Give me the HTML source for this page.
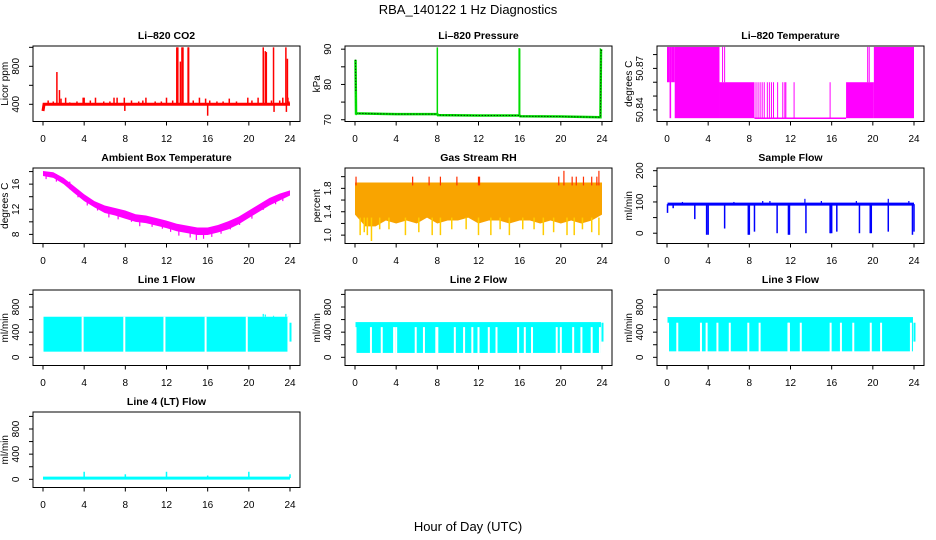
<!DOCTYPE html>
<html><head><meta charset="utf-8">
<style>
html,body{margin:0;padding:0;background:#fff;}
svg{display:block;font-family:"Liberation Sans",Arial,sans-serif;}
</style></head>
<body>
<svg id="chart" width="936" height="540" viewBox="0 0 936 540" xmlns="http://www.w3.org/2000/svg">
<text x="468" y="14" font-size="13" text-anchor="middle">RBA_140122  1 Hz Diagnostics</text>
<text x="468" y="531" font-size="13" text-anchor="middle">Hour of Day (UTC)</text>
</svg>
<script>
// ---- data ----
const xTicks = [0,4,8,12,16,20,24];
// CO2
const co2BaseHours = [0,0.1,24];
const co2BaseVals = [330,400,400];
const co2SpikeHours = [0.05,0.5,1.0,1.35,1.6,1.75,2.2,2.6,3.3,3.9,4.0,4.6,5.1,5.9,6.5,6.9,7.2,7.9,7.95,8.6,9.3,9.7,10.0,10.9,11.5,12.0,12.6,13.0,13.1,13.35,13.5,13.6,14.1,14.15,14.6,15.2,15.8,16.0,16.2,16.9,17.5,18.1,18.8,19.9,20.3,20.9,21.4,21.6,21.7,22.2,22.4,22.45,23.0,23.3,23.6,23.65,23.75,23.8,23.9];
const co2SpikeVals = [350,440,430,740,550,460,470,420,430,470,470,440,470,430,430,470,470,470,330,440,430,440,470,430,430,470,440,1000,1000,850,1000,1000,1000,1000,440,470,460,280,440,430,430,460,430,470,440,470,1000,960,950,440,1000,320,440,470,1000,320,880,470,430];
// Pressure
const presHours = [0.05,0.1,4,8,8.05,12,16,16.05,20,23.85,23.9,24];
const presVals = [87,71.8,71.6,71.6,71.3,71.2,71.2,71.0,70.9,70.7,89.7,89.5];
const presSpikeHours = [0.12,8.0,15.95,16.0];
const presSpikeVals = [78,90.5,90.3,90.2];
// Li-820 temperature bands
const tStart = [0,0.25,0.4,0.75,5.1,5.35,5.55,8.5,8.6,8.8,9.0,9.2,9.4,9.7,9.9,10.1,10.3,10.7,11.2,11.4,11.5,12.3,15.8,17.4,19.45,19.6,20.1];
const tEnd   = [0.25,0.4,0.75,5.1,8.5,5.42,5.62,17.4,8.67,8.87,9.07,9.27,9.47,9.77,9.97,10.17,10.37,10.77,11.27,11.47,11.57,12.37,15.87,20.1,19.52,19.67,24];
const tLo    = [50.86,50.834,50.86,50.834,50.834,50.86,50.86,50.834,50.834,50.834,50.834,50.834,50.834,50.834,50.834,50.834,50.834,50.834,50.834,50.834,50.834,50.834,50.834,50.834,50.86,50.86,50.834];
const tHi    = [50.8855,50.8855,50.8855,50.8855,50.86,50.8855,50.8855,50.8345,50.86,50.86,50.86,50.86,50.86,50.86,50.86,50.86,50.86,50.86,50.86,50.86,50.86,50.86,50.86,50.86,50.8855,50.8855,50.8855];
// Ambient box temperature (hourly envelopes)
const ambHours = [0,1,2,3,4,5,6,7,8,9,10,11,12,13,14,15,16,17,18,19,20,21,22,23,24];
const ambHigh = [18.1,17.9,17.0,15.7,14.4,13.3,12.6,12.2,11.8,11.2,11.0,10.6,10.2,9.7,9.4,9.1,9.1,9.5,10.1,10.8,11.8,12.8,13.8,14.5,15.0];
const ambLow  = [17.3,17.0,16.0,14.6,13.3,12.3,11.4,11.0,10.5,10.0,9.8,9.4,9.0,8.5,8.2,7.9,7.9,8.3,8.8,9.6,10.6,11.6,12.6,13.4,14.2];
const ambDipHours = [0.3,1.3,2.6,3.4,4.3,5.3,6.4,7.3,8.6,9.4,10.6,11.6,12.4,13.2,14.3,14.9,15.6,16.4,17.3,18.2,19.1,20.3,21.4,22.6,23.3];
const ambDipVals  = [16.8,16.4,15.2,13.9,12.6,11.8,10.7,10.4,10.0,9.3,9.2,8.9,8.4,7.8,7.5,7.1,7.3,7.6,8.1,8.8,9.5,10.5,11.9,12.8,13.3];
// Gas stream RH
const rhHours = [0,1,2,3,4,5,6,7,8,9,10,11,12,13,14,15,16,17,18,19,20,21,22,23,24];
const rhHigh = [1.9,1.9,1.9,1.9,1.9,1.9,1.9,1.9,1.9,1.9,1.9,1.9,1.9,1.9,1.9,1.9,1.9,1.9,1.9,1.9,1.9,1.9,1.9,1.9,1.9];
const rhLow  = [1.35,1.15,1.15,1.25,1.2,1.25,1.2,1.3,1.2,1.25,1.25,1.3,1.2,1.25,1.25,1.2,1.25,1.25,1.2,1.25,1.2,1.25,1.2,1.25,1.35];
const rhDipHours = [0.5,0.9,1.2,1.6,2.4,3.3,4.9,6.2,7.5,8.3,9.4,10.8,12.0,13.2,14.1,15.0,16.3,17.4,18.3,19.3,20.6,21.3,22.1,23.0,23.7];
const rhDipVals  = [1.0,1.05,1.0,0.9,1.1,1.1,1.0,1.05,1.0,1.0,1.1,1.1,1.0,1.0,1.1,1.0,1.1,1.1,1.0,1.05,1.0,1.0,1.1,1.05,1.0];
const rhPeakHours = [0.1,5.6,7.2,8.3,9.9,12.0,12.1,19.8,20.3,21.1,21.5,22.2,23.0,23.5,23.7];
const rhPeakVals  = [2.0,2.0,2.0,2.0,2.0,2.0,2.0,2.0,2.1,2.0,2.0,2.0,2.0,2.0,2.1];
// Sample flow
const sfBase = 93;
const sfDipHours = [0.05,0.6,2.7,3.85,4.0,5.6,7.9,8.0,8.5,10.7,11.8,11.9,13.5,15.85,15.9,16.0,16.5,18.7,19.75,19.85,21.5,23.85,24.0];
const sfDipVals  = [65,80,45,-5,-5,15,-5,-5,5,0,-5,-5,0,0,0,0,5,0,0,0,5,-5,5];
const sfPeakHours = [1.5,6.5,9.3,10.0,13.4,15.0,18.4,21.5,23.5];
const sfPeakVals  = [100,100,103,103,110,103,103,110,103];
// Line flows
const l1Top = 645, l1Bottom = 90, l1GapTop = 660;
const l1GapHours = [3.85,7.9,11.8,15.8,19.8,23.85];
const l1PeakHours = [21.4,21.6,22.4,23.6];
const l1PeakVals = [690,680,660,690];
const l2Top = 560, l2Bottom = 70, l2GapTop = 480;
const l2GapHours = [0.05,1.55,2.6,3.8,4.0,5.9,6.7,7.9,8.0,9.7,10.6,11.4,12.0,13.0,13.75,15.85,16.5,17.2,19.6,20.0,21.2,22.0,23.0,23.8];
const l3Top = 640, l3Bottom = 95, l3GapTop = 550;
const l3GapHours = [0.1,1.0,3.3,3.85,4.9,6.1,7.9,9.0,11.8,11.85,13.0,15.9,16.9,18.1,19.8,20.8,23.7];
const l4Base = 20;
const l4SpikeHours = [4.0,8.0,12.0,16.0,20.0,24.0];
const l4SpikeVals = [120,80,120,60,120,80];

// ---- layout ----
const svg = document.getElementById('chart');
const NS = 'http://www.w3.org/2000/svg';
const PXH = 247/24;
function mk(tag, attrs, parent){
  const e = document.createElementNS(NS, tag);
  for (const k in attrs) e.setAttribute(k, attrs[k]);
  (parent||svg).appendChild(e);
  return e;
}
let clipId = 0;
function panel(name, col, row, ylo, yhi, yTicks, yLabels, title, ylab){
  const g = mk('g', {});
  
  
  const x0 = 43 + col*312;
  const left = x0 - 10, right = x0 + 257;
  const top = 46 + row*122, bottom = top + 75.5;
  const X = h => x0 + h*PXH;
  const Y = v => bottom - (v - ylo)/(yhi - ylo)*(bottom - top);
  const id = 'clip' + (clipId++);
  const cp = mk('clipPath', {id: id}, g);
  mk('rect', {x:left, y:top, width:right-left, height:bottom-top}, cp);
  const plot = mk('g', {'clip-path':'url(#'+id+')'}, g);
  
  
  const box = mk('rect', {x:left, y:top, width:right-left, height:bottom-top, fill:'none', stroke:'#000', 'stroke-width':1}, g);
  
  
  const t = mk('text', {x:(left+right)/2, y:top-7, 'font-size':10.5, 'font-weight':'bold', 'text-anchor':'middle'}, g);
  t.textContent = title;
  
  
  const xa = mk('g', {}, g);
  
  
  xTicks.forEach(h => {
    mk('line', {x1:X(h), x2:X(h), y1:bottom, y2:bottom+4, stroke:'#000'}, xa);
    const l = mk('text', {x:X(h), y:bottom+20.5, 'font-size':10, 'text-anchor':'middle'}, xa);
    l.textContent = h;
  });
  const ya = mk('g', {}, g);
  
  
  yTicks.forEach((v,i) => {
    mk('line', {x1:left-4, x2:left, y1:Y(v), y2:Y(v), stroke:'#000'}, ya);
    if (yLabels[i] !== '') {
      const l = mk('text', {x:0, y:0, 'font-size':10, 'text-anchor':'middle', transform:'translate('+(left-14)+','+Y(v)+') rotate(-90)'}, ya);
      l.textContent = yLabels[i];
    }
  });
  const yt = mk('text', {x:0, y:0, 'font-size':10, 'text-anchor':'middle', transform:'translate('+(left-25)+','+((top+bottom)/2)+') rotate(-90)'}, g);
  yt.textContent = ylab;
  
  
  return {plot, X, Y};
}
function vline(p, h, v1, v2, color, w){
  return mk('line', {x1:p.X(h), x2:p.X(h), y1:p.Y(v1), y2:p.Y(v2), stroke:color, 'stroke-width':w||1.2}, p.plot);
}
function polyline(p, hs, vs, color, w, dash){
  const pts = hs.map((h,i)=>p.X(h)+','+p.Y(vs[i])).join(' ');
  const a = {points:pts, fill:'none', stroke:color, 'stroke-width':w};
  if (dash) a['stroke-dasharray'] = dash;
  return mk('polyline', a, p.plot);
}
function band(p, hs, hi, lo, fill){
  const pts = hs.map((h,i)=>p.X(h)+','+p.Y(hi[i])).concat(hs.slice().reverse().map((h,i)=>p.X(h)+','+p.Y(lo[hs.length-1-i]))).join(' ');
  return mk('polygon', {points:pts, fill:fill, stroke:'none'}, p.plot);
}

// CO2
{
  const p = panel('co2', 0, 0, 219, 1014, [400,600,800,1000], ['400','','800',''], 'Li\u2013820 CO2', 'Licor ppm');
  co2SpikeHours.forEach((h,i)=>{
    const s = vline(p, h, 400, co2SpikeVals[i], '#ff0000', 1.5);
    
    
  });
  const l = polyline(p, co2BaseHours, co2BaseVals, '#ff0000', 3);
  
  
}
// Pressure
{
  const p = panel('pressure', 1, 0, 69.5, 90.9, [70,75,80,85,90], ['70','','80','','90'], 'Li\u2013820 Pressure', 'kPa');
  const l = polyline(p, presHours, presVals, '#00dd00', 2.5);
  
  
  polyline(p, presHours, presVals, '#000', 1, '1,2');
  presSpikeHours.forEach((h,i)=>{
    const s = vline(p, h, 71.3, presSpikeVals[i], '#00dd00', 1.5);
    
    
  });
}
// Temperature
{
  const p = panel('li820-temp', 2, 0, 50.8316, 50.8862, [50.84,50.85,50.86,50.87,50.88], ['50.84','','','50.87',''], 'Li\u2013820 Temperature', 'degrees C');
  tStart.forEach((s,i)=>{
    const y1 = p.Y(tHi[i]), y2 = p.Y(tLo[i]);
    const r = mk('rect', {x:p.X(s), y:y1, width:Math.max(1,p.X(tEnd[i])-p.X(s)), height:Math.max(1.5,y2-y1), fill:'#ff00ff'}, p.plot);
    
    
  });
}
// Ambient
{
  const p = panel('ambient-temp', 0, 1, 6.55, 18.57, [8,10,12,14,16,18], ['8','','12','','16',''], 'Ambient Box Temperature', 'degrees C');
  const b = band(p, ambHours, ambHigh, ambLow, '#ff00ff');
  
  
  ambDipHours.forEach((h,i)=>{
    const s = vline(p, h, ambDipVals[i]+1.2, ambDipVals[i], '#ff00ff', 1.2);
    
    
  });
}
// RH
{
  const p = panel('rh', 1, 1, 0.857, 2.148, [1.0,1.2,1.4,1.6,1.8,2.0], ['1.0','','1.4','','1.8',''], 'Gas Stream RH', 'percent');
  const b = band(p, rhHours, rhHigh, rhLow, '#f9a400');
  
  
  rhDipHours.forEach((h,i)=>{
    const s = vline(p, h, 1.3, rhDipVals[i], '#ffcc00', 1.5);
    
    
  });
  rhPeakHours.forEach((h,i)=>{
    const s = vline(p, h, 1.85, rhPeakVals[i], '#ff3000', 1.2);
    
    
  });
}
// Sample flow
{
  const p = panel('sample-flow', 2, 1, -32.9, 208.6, [0,50,100,150,200], ['0','','100','','200'], 'Sample Flow', 'ml/min');
  const l = polyline(p, [0.05,24], [sfBase,sfBase], '#0000ff', 3);
  
  
  sfDipHours.forEach((h,i)=>{
    const s = vline(p, h, sfBase, sfDipVals[i], '#0000ff', 1.5);
    
    
  });
  sfPeakHours.forEach((h,i)=>{
    const s = vline(p, h, sfBase, sfPeakVals[i], '#0000ff', 1.2);
    
    
  });
}
// Line flows
function lineFlow(name, col, row, title, top, bottom, gapTop, gapHours){
  const p = panel(name, col, row, -130, 1070, [0,200,400,600,800,1000], ['0','','400','','800',''], title, 'ml/min');
  const r = mk('rect', {x:p.X(0.05), y:p.Y(top), width:p.X(23.9)-p.X(0.05), height:p.Y(bottom)-p.Y(top), fill:'#00ffff'}, p.plot);
  
  
  const tail = mk('rect', {x:p.X(23.95), y:p.Y(550), width:2, height:p.Y(250)-p.Y(550), fill:'#00ffff'}, p.plot);
  
  
  gapHours.forEach(h=>{
    const g = vline(p, h, Math.min(gapTop, top), bottom-10, '#ffffff', 2);
    
    
  });
  return p;
}
{
  const p = lineFlow('line1-flow', 0, 2, 'Line 1 Flow', l1Top, l1Bottom, l1GapTop, l1GapHours);
  l1PeakHours.forEach((h,i)=>{
    const s = vline(p, h, l1Top, l1PeakVals[i], '#00ffff', 1.2);
    
    
  });
}
lineFlow('line2-flow', 1, 2, 'Line 2 Flow', l2Top, l2Bottom, l2GapTop, l2GapHours);
lineFlow('line3-flow', 2, 2, 'Line 3 Flow', l3Top, l3Bottom, l3GapTop, l3GapHours);
{
  const p = panel('line4-flow', 0, 3, -130, 1070, [0,200,400,600,800,1000], ['0','','400','','800',''], 'Line 4 (LT) Flow', 'ml/min');
  const l = polyline(p, [0,24], [l4Base,l4Base], '#00ffff', 3);
  
  
  l4SpikeHours.forEach((h,i)=>{
    const s = vline(p, h, l4Base, l4SpikeVals[i], '#00ffff', 1.5);
    
    
  });
}
</script>
</body></html>
